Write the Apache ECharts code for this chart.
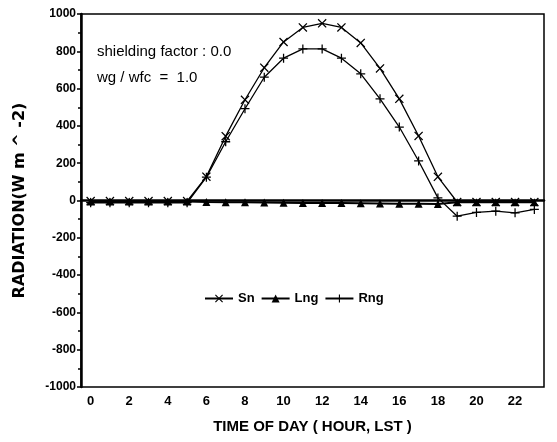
<!DOCTYPE html>
<html>
<head>
<meta charset="utf-8">
<script src="https://cdn.jsdelivr.net/npm/echarts@6/dist/echarts.min.js"></script>
<style>
html,body{margin:0;padding:0;background:#fff;}
#chart{width:557px;height:442px;}
</style>
</head>
<body>
<div id="chart"></div>
<script>
const hours = ['0','1','2','3','4','5','6','7','8','9','10','11','12','13','14','15','16','17','18','19','20','21','22','23'];
const sn  = [-3,-3,-3,-3,-3,-3,128,345,540,712,850,928,950,928,845,708,545,346,127,-8,-8,-8,-8,-8];
const lng = [-5,-5,-5,-5,-5,-5,-8,-9,-10,-11,-12,-13,-14,-14,-15,-16,-17,-18,-19,-10,-10,-10,-10,-10];
const rng = [-12,-12,-12,-12,-12,-12,125,315,492,661,763,813,813,763,679,545,394,212,14,-84,-64,-57,-66,-48];
const yMin = -1000, yMax = 1000, yStep = 200;
const annotation = ['shielding factor : 0.0', 'wg / wfc  =  1.0'];

const FONT = '"Liberation Sans", Arial, sans-serif';
const crossX = 'path://M0,1 L1,0 L5,4 L9,0 L10,1 L6,5 L10,9 L9,10 L5,6 L1,10 L0,9 L4,5 Z';
const crossPlus = 'path://M4.3,0 L5.7,0 L5.7,4.3 L10,4.3 L10,5.7 L5.7,5.7 L5.7,10 L4.3,10 L4.3,5.7 L0,5.7 L0,4.3 L4.3,4.3 Z';

const chart = echarts.init(document.getElementById('chart'));
const lineStyle = {color:'#000', width:1.3};
chart.setOption({
  animation:false,
  backgroundColor:'#fff',
  grid:{left:81, top:14, right:13, bottom:55, show:true, borderColor:'#000', borderWidth:1.5, backgroundColor:'transparent'},
  legend:{
    top:287, left:199,
    itemWidth:28, itemHeight:10, itemGap:6,
    textStyle:{fontFamily:FONT, fontWeight:'bold', fontSize:13, color:'#000'},
    data:['Sn','Lng','Rng']
  },
  xAxis:{
    type:'category', data:hours, boundaryGap:true,
    axisLine:{lineStyle:{color:'#000', width:2.5}},
    axisTick:{show:true, alignWithLabel:true, interval:0, length:5, lineStyle:{color:'#000', width:1.5}},
    axisLabel:{interval:1, color:'#000', fontFamily:FONT, fontWeight:'bold', fontSize:13, margin:8},
    name:'TIME OF DAY ( HOUR, LST )', nameLocation:'middle', nameGap:32,
    nameTextStyle:{fontFamily:FONT, fontWeight:'bold', fontSize:15, color:'#000'},
    splitLine:{show:false}
  },
  yAxis:{
    type:'value', min:yMin, max:yMax, interval:yStep,
    axisLine:{show:true, lineStyle:{color:'#000', width:2.5}},
    axisTick:{show:true, length:4, lineStyle:{color:'#000', width:1.5}},
    minorTick:{show:true, splitNumber:2, length:3, lineStyle:{color:'#000', width:1.5}},
    axisLabel:{color:'#000', fontFamily:FONT, fontWeight:'bold', fontSize:12, margin:5,
               formatter:function(v){return String(v);}},
    name:'RADIATION(W m ^ -2)', nameLocation:'middle', nameGap:53, nameRotate:90,
    nameTextStyle:{fontFamily:'"DejaVu Sans", sans-serif', fontWeight:'bold', fontSize:16, color:'#000'},
    splitLine:{show:false}
  },
  graphic:[
    {type:'text', left:97, top:44, style:{text:annotation[0], font:'15px ' + FONT, fill:'#000'}},
    {type:'text', left:97, top:70, style:{text:annotation[1], font:'15px ' + FONT, fill:'#000'}}
  ],
  series:[
    {name:'Sn', type:'line', data:sn, symbol:crossX, symbolSize:9, showAllSymbol:true,
     lineStyle:lineStyle, itemStyle:{color:'#000'}},
    {name:'Lng', type:'line', data:lng, symbol:'triangle', symbolSize:8, showAllSymbol:true,
     lineStyle:{color:'#000', width:2}, itemStyle:{color:'#000'}},
    {name:'Rng', type:'line', data:rng, symbol:crossPlus, symbolSize:9, showAllSymbol:true,
     lineStyle:lineStyle, itemStyle:{color:'#000'}}
  ]
});
</script>
</body>
</html>
